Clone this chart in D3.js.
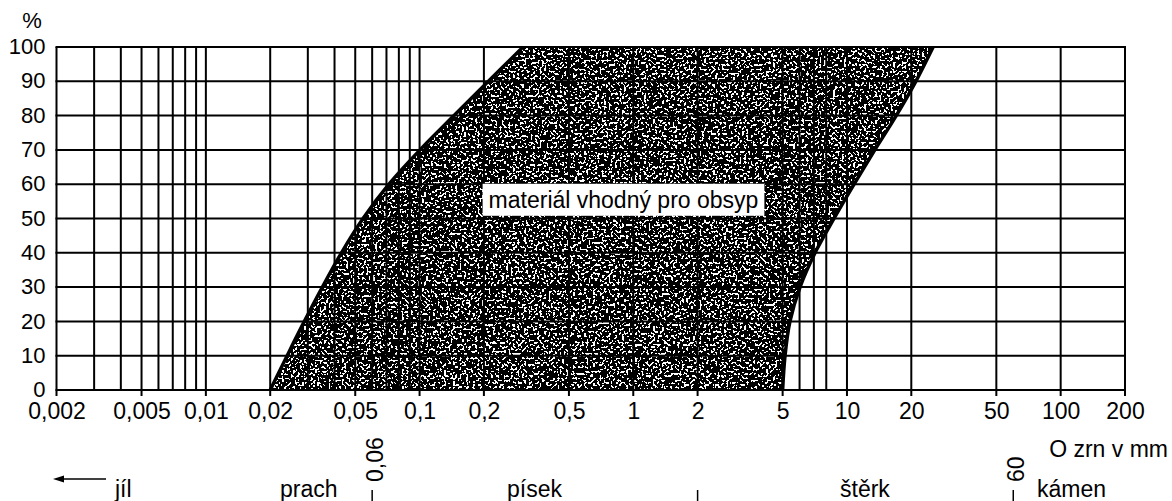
<!DOCTYPE html>
<html>
<head>
<meta charset="utf-8">
<script src="https://cdn.jsdelivr.net/npm/d3@7"></script>
<style>
  body { margin: 0; background: #fff; }
  svg { display: block; font-family: "Liberation Sans", Arial, sans-serif; }
</style>
</head>
<body>
<svg></svg>
<script>
// passing percentage vs grain size (mm) of the two edges of the band
const passing = [0, 10, 20, 30, 40, 50, 60, 70, 80, 90, 100];
const fineEdge = [0.02, 0.024, 0.0289, 0.0351, 0.0431, 0.0544, 0.0719, 0.1005, 0.145, 0.21, 0.305];
const coarseEdge = [5.0, 5.13, 5.41, 6.03, 7.09, 8.7, 10.8, 13.5, 17.0, 21.0, 25.3];

// axis ticks
const xLabels = [0.002, 0.005, 0.01, 0.02, 0.05, 0.1, 0.2, 0.5, 1, 2, 5, 10, 20, 50, 100, 200];
const xGrid = [0.002, 0.003, 0.004, 0.005, 0.006, 0.007, 0.008, 0.009, 0.01,
    0.02, 0.03, 0.04, 0.05, 0.06, 0.07, 0.08, 0.09, 0.1, 0.2, 0.5, 1, 2,
    5, 6, 7, 8, 10, 20, 50, 100, 200];
const yTicks = [0, 10, 20, 30, 40, 50, 60, 70, 80, 90, 100];

// soil classes under the axis and the limits between them (mm)
const classNames = ["jíl", "prach", "písek", "štěrk", "kámen"];
const classLimits = [0.06, 2, 60];
const classLimitLabels = ["0,06", "", "60"];
const bandLabel = "materiál vhodný pro obsyp";

const svg = d3.select('svg')
    .attr('width', 1172)
    .attr('height', 501);

const x = d3.scaleLog().domain([0.002, 200]).range([56.5, 1125]);
const y = d3.scaleLinear().domain([0, 100]).range([390, 47]);

const comma = d => String(d).replace('.', ',');
const band = passing.map((p, i) => ({ p: p, fine: fineEdge[i], coarse: coarseEdge[i] }));

// speckled fill, black with white grains
const defs = svg.append('defs');
const grain = defs.append('filter')
    .attr('id', 'grain')
    .attr('x', 0).attr('y', 0).attr('width', 1).attr('height', 1)
    .attr('color-interpolation-filters', 'sRGB');
grain.append('feTurbulence')
    .attr('type', 'fractalNoise')
    .attr('baseFrequency', 0.45)
    .attr('numOctaves', 1)
    .attr('seed', 5)
    .attr('result', 'noise');
grain.append('feColorMatrix')
    .attr('in', 'noise')
    .attr('type', 'matrix')
    .attr('values', '0 0 0 0 1  0 0 0 0 1  0 0 0 0 1  1 0 0 0 0')
    .attr('result', 'white');
// keep only the brighter part of the noise as white grains
const cut = d3.range(40).map(i => i < 23 ? 0 : 1).join(' ');
grain.append('feComponentTransfer')
    .attr('in', 'white')
    .attr('result', 'specks')
    .append('feFuncA')
    .attr('type', 'discrete')
    .attr('tableValues', cut);
grain.append('feFlood').attr('flood-color', '#000').attr('result', 'bg');
const merge = grain.append('feMerge');
merge.append('feMergeNode').attr('in', 'bg');
merge.append('feMergeNode').attr('in', 'specks');

const curve = d3.curveCatmullRom.alpha(0.5);
const area = d3.area()
    .y(d => y(d.p))
    .x0(d => x(d.fine))
    .x1(d => x(d.coarse))
    .curve(curve);

defs.append('clipPath').attr('id', 'bandClip')
    .append('path')
    .attr('d', area(band));

svg.append('rect')
    .attr('x', x(0.002))
    .attr('y', y(100))
    .attr('width', x(200) - x(0.002))
    .attr('height', y(0) - y(100))
    .attr('fill', '#000')
    .attr('filter', 'url(#grain)')
    .attr('clip-path', 'url(#bandClip)');

// grid, the labelled vertical lines run a little below the axis as ticks
const grid = svg.append('g')
    .attr('stroke', '#000')
    .attr('stroke-width', 2);
grid.selectAll('line.v')
    .data(xGrid)
    .join('line')
    .attr('class', 'v')
    .attr('x1', d => x(d)).attr('x2', d => x(d))
    .attr('y1', y(100)).attr('y2', d => xLabels.includes(d) ? y(0) + 6 : y(0));
grid.selectAll('line.h')
    .data(yTicks)
    .join('line')
    .attr('class', 'h')
    .attr('x1', x(0.002) - 1).attr('x2', x(200) + 1)
    .attr('y1', d => y(d)).attr('y2', d => y(d));

// band edges
['fine', 'coarse'].forEach(k => {
    svg.append('path')
        .attr('d', d3.line().x(d => x(d[k])).y(d => y(d.p)).curve(curve)(band))
        .attr('fill', 'none')
        .attr('stroke', '#000')
        .attr('stroke-width', 3.5);
});

// label in the middle of the band
const lbl = svg.append('g');
const lblText = lbl.append('text')
    .attr('x', x(0.9))
    .attr('y', y(55))
    .attr('dy', '0.28em')
    .attr('text-anchor', 'middle')
    .attr('font-size', 23)
    .text(bandLabel);
const bb = lblText.node().getBBox();
lbl.insert('rect', 'text')
    .attr('x', bb.x - 6)
    .attr('y', bb.y - 3)
    .attr('width', bb.width + 12)
    .attr('height', bb.height + 6)
    .attr('fill', '#fff');

// axes
const xAxis = svg.append('g')
    .attr('transform', `translate(0,${y(0)})`)
    .call(d3.axisBottom(x).tickValues(xLabels).tickFormat(comma).tickSize(0).tickPadding(13));
xAxis.select('.domain').remove();
xAxis.selectAll('text').attr('font-size', 23).attr('fill', '#000');

const yAxis = svg.append('g')
    .attr('transform', `translate(${x(0.002)},0)`)
    .call(d3.axisLeft(y).tickValues(yTicks).tickSize(0).tickPadding(11));
yAxis.select('.domain').remove();
yAxis.selectAll('text').attr('font-size', 22).attr('fill', '#000').attr('dy', '0.3em');

svg.selectAll('.tick line').remove();

svg.append('text')
    .attr('x', 32).attr('y', 28)
    .attr('text-anchor', 'middle')
    .attr('font-size', 22)
    .text('%');

svg.append('text')
    .attr('x', 1168).attr('y', 457)
    .attr('text-anchor', 'end')
    .attr('font-size', 23)
    .text('O zrn v mm');

// soil classes row
const classAt = [115, 280, 507, 840, 1037];
classNames.forEach((name, i) => {
    svg.append('text')
        .attr('x', classAt[i])
        .attr('y', 497)
        .attr('font-size', 23)
        .text(name);
});

// arrow pointing to the finer classes
svg.append('line')
    .attr('x1', 60).attr('x2', 106)
    .attr('y1', 479).attr('y2', 479)
    .attr('stroke', '#000')
    .attr('stroke-width', 1.5);
svg.append('path')
    .attr('d', 'M53,479 L64,475.5 L64,482.5 Z')
    .attr('fill', '#000');

classLimits.forEach((d, i) => {
    svg.append('line')
        .attr('x1', x(d)).attr('x2', x(d))
        .attr('y1', 490).attr('y2', 501)
        .attr('stroke', '#000')
        .attr('stroke-width', 1.5);
    if (classLimitLabels[i]) {
        svg.append('text')
            .attr('transform', `translate(${x(d) + 11},482) rotate(-90)`)
            .attr('font-size', 23)
            .text(classLimitLabels[i]);
    }
});
</script>
</body>
</html>
